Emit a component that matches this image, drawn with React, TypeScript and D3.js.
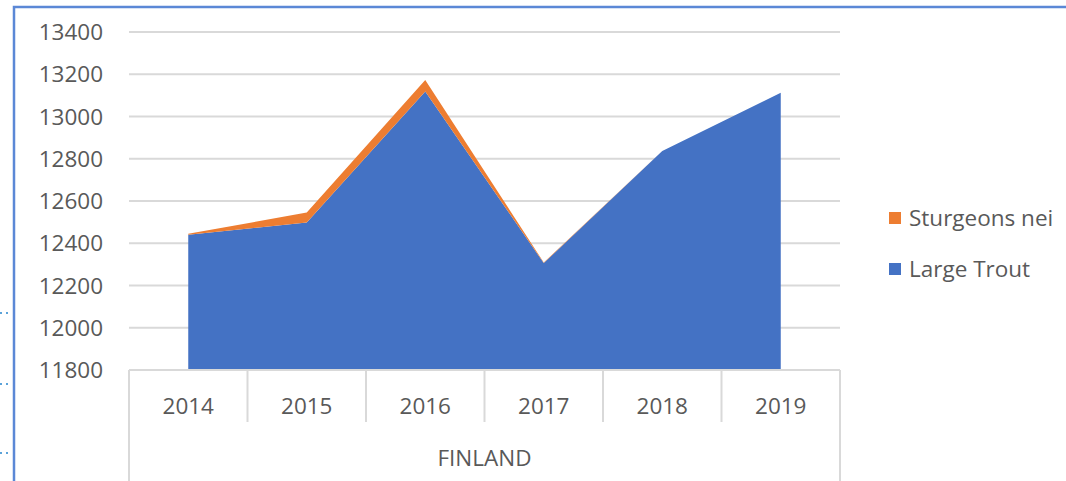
// Excel-style stacked area chart — Finland, Large Trout + Sturgeons nei
import React, { useEffect, useRef } from 'react';
import * as d3 from 'd3';

const years = ['2014', '2015', '2016', '2017', '2018', '2019'];
const largeTrout = [12440, 12498, 13118, 12306, 12837, 13112];
const sturgeons = [5, 47, 55, 3, 0, 0];
const yTicks = [11800, 12000, 12200, 12400, 12600, 12800, 13000, 13200, 13400];
const groupLabel = 'FINLAND';

const BLUE = '#4472C4';
const ORANGE = '#ED7D31';
const TEXT = '#595959';
const GRID = '#D9D9D9';
const FONT = '"Open Sans", "Noto Sans", sans-serif';
const FS = 22.5;

const App: React.FC = () => {
  const svgRef = useRef<SVGSVGElement>(null);

  useEffect(() => {
    if (!svgRef.current) return;
    const svg = d3.select(svgRef.current);
    svg.selectAll('*').remove();

    const width = 1066;
    const height = 481;
    const plot = { left: 129, right: 840, top: 32, bottom: 370 };

    svg.append('rect').attr('width', width).attr('height', height).attr('fill', '#fff');

    // рамка выделенного объекта (скриншот из Excel)
    svg.append('path')
      .attr('d', `M14,${height} V7 H${width}`)
      .attr('fill', 'none')
      .attr('stroke', '#5B88D6')
      .attr('stroke-width', 2.5);
    [313, 384, 453].forEach((y) => {
      svg.append('line')
        .attr('x1', 0).attr('x2', 12)
        .attr('y1', y).attr('y2', y)
        .attr('stroke', '#5BA3D9')
        .attr('stroke-width', 2)
        .attr('stroke-dasharray', '2 4');
    });

    const x = d3.scaleBand().domain(years).range([plot.left, plot.right]);
    const y = d3.scaleLinear().domain([11800, 13400]).range([plot.bottom, plot.top]);

    // Сетка
    svg.append('g')
      .selectAll('line')
      .data(yTicks.slice(1))
      .enter()
      .append('line')
      .attr('x1', plot.left)
      .attr('x2', plot.right)
      .attr('y1', (d) => y(d))
      .attr('y2', (d) => y(d))
      .attr('stroke', GRID)
      .attr('stroke-width', 2);

    // Ось Y
    svg.append('g')
      .selectAll('text')
      .data(yTicks)
      .enter()
      .append('text')
      .attr('x', 103)
      .attr('y', (d) => y(d))
      .attr('dy', '0.36em')
      .attr('text-anchor', 'end')
      .attr('font-family', FONT)
      .attr('font-size', FS)
      .attr('fill', TEXT)
      .text((d) => String(d));

    // Стек
    const data = years.map((yr, i) => ({ year: yr, trout: largeTrout[i], sturgeons: sturgeons[i] }));
    const stack = d3.stack<typeof data[0]>().keys(['trout', 'sturgeons']);
    const series = stack(data);
    const cx = (d: { data: typeof data[0] }) => (x(d.data.year) as number) + x.bandwidth() / 2;
    const area = d3.area<d3.SeriesPoint<typeof data[0]>>()
      .x((d) => cx(d))
      .y0((d) => y(Math.max(d[0], 11800)))
      .y1((d) => y(d[1]));
    const colors = [BLUE, ORANGE];
    svg.append('g')
      .selectAll('path')
      .data(series)
      .enter()
      .append('path')
      .attr('fill', (_, i) => colors[i])
      .attr('d', (s) => area(s));

    // Ось X — категории
    const axis = svg.append('g').attr('stroke', GRID).attr('stroke-width', 2);
    axis.append('line')
      .attr('x1', plot.left).attr('x2', plot.right)
      .attr('y1', plot.bottom).attr('y2', plot.bottom);
    const bounds = years.map((yr) => x(yr) as number).concat([plot.right]);
    bounds.forEach((bx, i) => {
      const outer = i === 0 || i === bounds.length - 1;
      axis.append('line')
        .attr('x1', bx).attr('x2', bx)
        .attr('y1', plot.bottom).attr('y2', outer ? height : 422);
    });

    svg.append('g')
      .selectAll('text')
      .data(years)
      .enter()
      .append('text')
      .attr('x', (d) => (x(d) as number) + x.bandwidth() / 2)
      .attr('y', 406)
      .attr('dy', '0.36em')
      .attr('text-anchor', 'middle')
      .attr('font-family', FONT)
      .attr('font-size', FS)
      .attr('fill', TEXT)
      .text((d) => d);

    svg.append('text')
      .attr('x', (plot.left + plot.right) / 2)
      .attr('y', 458)
      .attr('dy', '0.36em')
      .attr('text-anchor', 'middle')
      .attr('font-family', FONT)
      .attr('font-size', FS)
      .attr('fill', TEXT)
      .text(groupLabel);

    // Легенда
    const legend = [
      { name: 'Sturgeons nei', color: ORANGE },
      { name: 'Large Trout', color: BLUE },
    ];
    const lg = svg.append('g');
    legend.forEach((l, i) => {
      const ly = 218 + i * 51;
      lg.append('rect')
        .attr('x', 889).attr('y', ly - 6)
        .attr('width', 12).attr('height', 12)
        .attr('fill', l.color);
      lg.append('text')
        .attr('x', 909).attr('y', ly)
        .attr('dy', '0.36em')
        .attr('font-family', FONT)
        .attr('font-size', FS)
        .attr('fill', TEXT)
        .text(l.name);
    });
  }, []);

  return (
    <div style={{ position: 'absolute', left: 0, top: 0 }}>
      <svg ref={svgRef} width={1066} height={481} style={{ display: 'block' }} />
    </div>
  );
};

export default App;
